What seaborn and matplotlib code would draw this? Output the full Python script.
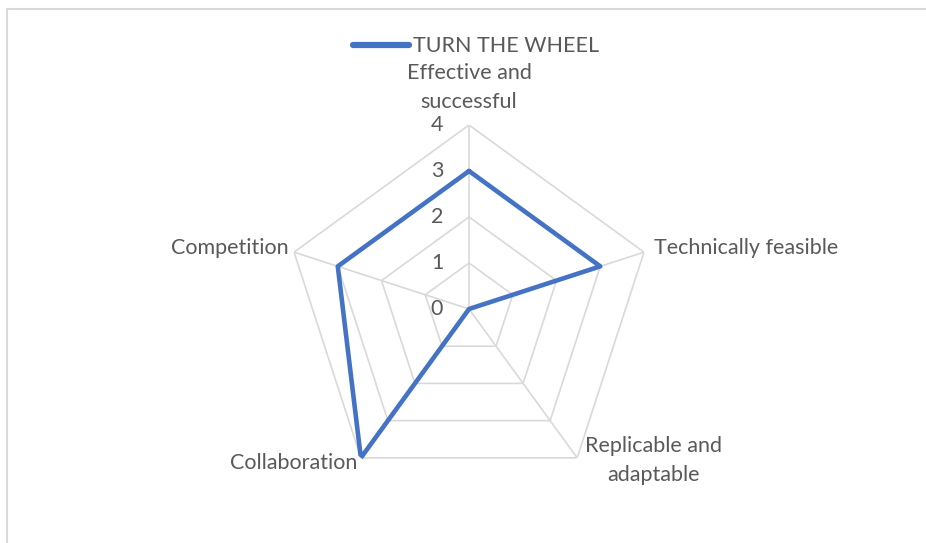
import numpy as np
import pandas as pd
import seaborn as sns
import matplotlib.pyplot as plt
from matplotlib.lines import Line2D

categories = ["Effective and\nsuccessful", "Technically feasible", "Replicable and\nadaptable",
              "Collaboration", "Competition"]
values = [3, 3, 0, 4, 3]
series_name = "TURN THE WHEEL"
levels = [0, 1, 2, 3, 4]

sns.set_style("white")
plt.rcParams['font.family'] = ['Lato', 'DejaVu Sans']

text_color = "#595959"
grid_color = "#d9d9d9"
line_color = "#4472C4"
fs = 15.5

n = len(categories)
angles = np.linspace(0, 2 * np.pi, n, endpoint=False)

# close the loop (use 2*pi so seaborn doesn't average the duplicate x)
df = pd.DataFrame({
    "theta": list(angles) + [2 * np.pi],
    "value": values + [values[0]],
})

fig = plt.figure(figsize=(9.26, 5.43), dpi=100)
ax = fig.add_axes([0.3078, 0.0921, 0.3974, 0.6777], projection="polar")
ax.set_theta_offset(np.pi / 2)
ax.set_theta_direction(-1)
ax.set_ylim(0, max(levels))
ax.grid(False)
ax.spines["polar"].set_visible(False)
ax.set_xticks([])
ax.set_yticks([])

# pentagon grid + spokes
ring_theta = list(angles) + [angles[0]]
for lv in levels[1:]:
    ax.plot(ring_theta, [lv] * (n + 1), color=grid_color, lw=1.2, zorder=1)
for a in angles:
    ax.plot([a, a], [0, max(levels)], color=grid_color, lw=1.2, zorder=1)

sns.lineplot(data=df, x="theta", y="value", sort=False, estimator=None, ax=ax,
             color=line_color, lw=3.3, label=series_name, zorder=3)
ax.set_xlabel("")
ax.set_ylabel("")
ax.get_legend().remove()

# radial tick labels
for lv in levels:
    ax.annotate(str(lv), xy=(0, lv), xytext=(-32, 0), textcoords="offset pixels",
                ha="center", va="center", fontsize=fs, color=text_color)

# category labels
label_pos = [
    ((0, 13), "center", "bottom"),
    ((10, 4), "left", "center"),
    ((8, -3), "left", "center"),
    ((-3, -5), "right", "center"),
    ((-5, 4), "right", "center"),
]
for a, lab, (off, ha, va) in zip(angles, categories, label_pos):
    ax.annotate(lab, xy=(a, max(levels)), xytext=off, textcoords="offset pixels",
                ha=ha, va=va, multialignment="center", fontsize=fs, color=text_color,
                linespacing=1.55)

handles = [Line2D([0], [0], color=line_color, lw=4.5, solid_capstyle="round")]
fig.legend(handles, [series_name], loc="center", bbox_to_anchor=(0.514, 0.915),
           frameon=False, handlelength=2.6, handletextpad=0.2, fontsize=fs,
           labelcolor=text_color)

# outer chart frame (left and top edges visible)
fig.add_artist(Line2D([7 / 926, 7 / 926], [0, 1 - 9 / 543], color=grid_color, lw=1.5,
                      transform=fig.transFigure))
fig.add_artist(Line2D([7 / 926, 1], [1 - 9 / 543, 1 - 9 / 543], color=grid_color, lw=1.5,
                      transform=fig.transFigure))

fig.savefig("out.png", dpi=100)
